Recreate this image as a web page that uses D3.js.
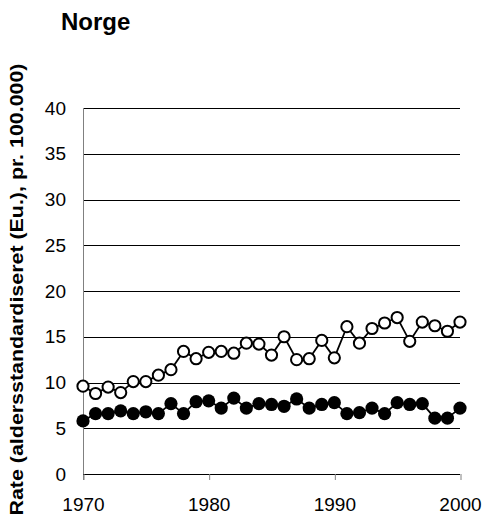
<!DOCTYPE html>
<html>
<head>
<meta charset="utf-8">
<script src="https://cdn.jsdelivr.net/npm/d3@7"></script>
<style>
	body { margin: 0; background: #fff; }
	text { font-family: "Liberation Sans", Arial, sans-serif; fill: #000; }
</style>
</head>
<body>
<div id="chart-area"></div>
<script>
// Data
let years = d3.range(1970, 2001);

let openSeries = [9.6, 8.8, 9.5, 8.9, 10.1, 10.1, 10.8, 11.4, 13.4, 12.6, 13.3, 13.4, 13.2, 14.3, 14.2, 13.0,
	15.0, 12.5, 12.6, 14.6, 12.7, 16.1, 14.3, 15.9, 16.5, 17.1, 14.5, 16.6, 16.2, 15.6, 16.6];

let filledSeries = [5.8, 6.6, 6.6, 6.9, 6.6, 6.8, 6.6, 7.7, 6.6, 7.9, 8.0, 7.2, 8.3, 7.2, 7.7, 7.6,
	7.4, 8.2, 7.2, 7.6, 7.8, 6.6, 6.7, 7.2, 6.6, 7.8, 7.6, 7.7, 6.1, 6.1, 7.2];

let yTicks = [0, 5, 10, 15, 20, 25, 30, 35, 40];
let xTicks = [1970, 1980, 1990, 2000];

let title = "Norge";
let yLabel = "Rate (aldersstandardiseret (Eu.), pr. 100.000)";

let width = 486,
	height = 521;

let margin = {top: 108, right: 26, bottom: 47, left: 83},
	innerWidth = width - margin.left - margin.right,
	innerHeight = height - margin.top - margin.bottom;

let svg = d3.select("#chart-area").append("svg")
	.attr("width", width)
	.attr("height", height);

let g = svg.append("g")
	.attr("transform", "translate(" + margin.left + "," + margin.top + ")");

// Scales
let x = d3.scaleLinear()
	.domain([1970, 2000])
	.range([0, innerWidth]);

let y = d3.scaleLinear()
	.domain([0, 40])
	.range([innerHeight, 0]);

// Gridlines
g.selectAll(".grid")
	.data(yTicks.filter(d => d > 0))
	.enter()
	.append("line")
	.attr("class", "grid")
	.attr("x1", 0)
	.attr("x2", innerWidth)
	.attr("y1", d => Math.round(y(d)) + 0.5)
	.attr("y2", d => Math.round(y(d)) + 0.5)
	.attr("stroke", "#000")
	.attr("stroke-width", 1);

// Y axis
let yAxis = g.append("g")
	.call(d3.axisLeft(y).tickValues(yTicks).tickSize(0).tickPadding(17));
yAxis.select(".domain")
	.attr("stroke", "#808080")
	.attr("d", "M0.5," + (innerHeight + 6) + "V0");
yAxis.selectAll("text")
	.attr("font-size", 19)
	.attr("font-family", "Liberation Sans, Arial, sans-serif");

// X axis
let xAxis = g.append("g")
	.attr("transform", "translate(0," + innerHeight + ")")
	.call(d3.axisBottom(x).tickValues(xTicks).tickFormat(d3.format("d")).tickSize(6).tickPadding(18));
xAxis.select(".domain")
	.attr("stroke", "#000")
	.attr("d", "M0,0.5H" + innerWidth);
xAxis.selectAll(".tick line")
	.attr("stroke", "#808080")
	.attr("transform", "translate(0.5,0)");
xAxis.selectAll("text")
	.attr("font-size", 19)
	.attr("font-family", "Liberation Sans, Arial, sans-serif");

// Lines
let line = d3.line()
	.x(d => x(d[0]))
	.y(d => y(d[1]));

let openData = years.map((yr, i) => [yr, openSeries[i]]);
let filledData = years.map((yr, i) => [yr, filledSeries[i]]);

[filledData, openData].forEach(data => {
	g.append("path")
		.datum(data)
		.attr("d", line)
		.attr("fill", "none")
		.attr("stroke", "#000")
		.attr("stroke-width", 1.8);
});

// Points
g.selectAll(".filled")
	.data(filledData)
	.enter()
	.append("circle")
	.attr("class", "filled")
	.attr("cx", d => x(d[0]))
	.attr("cy", d => y(d[1]))
	.attr("r", 6.6)
	.attr("fill", "#000");

g.selectAll(".open")
	.data(openData)
	.enter()
	.append("circle")
	.attr("class", "open")
	.attr("cx", d => x(d[0]))
	.attr("cy", d => y(d[1]))
	.attr("r", 5.6)
	.attr("fill", "#fff")
	.attr("stroke", "#000")
	.attr("stroke-width", 2);

// Title
svg.append("text")
	.attr("x", 61)
	.attr("y", 30)
	.attr("font-size", 24)
	.attr("font-weight", "bold")
	.text(title);

// Y axis label (stretched to the reference's length)
svg.append("text")
	.attr("transform", "translate(23," + 289.5 + ") rotate(-90)")
	.attr("text-anchor", "middle")
	.attr("font-size", 19)
	.attr("font-weight", "bold")
	.attr("textLength", 452)
	.attr("lengthAdjust", "spacingAndGlyphs")
	.text(yLabel);
</script>
</body>
</html>
